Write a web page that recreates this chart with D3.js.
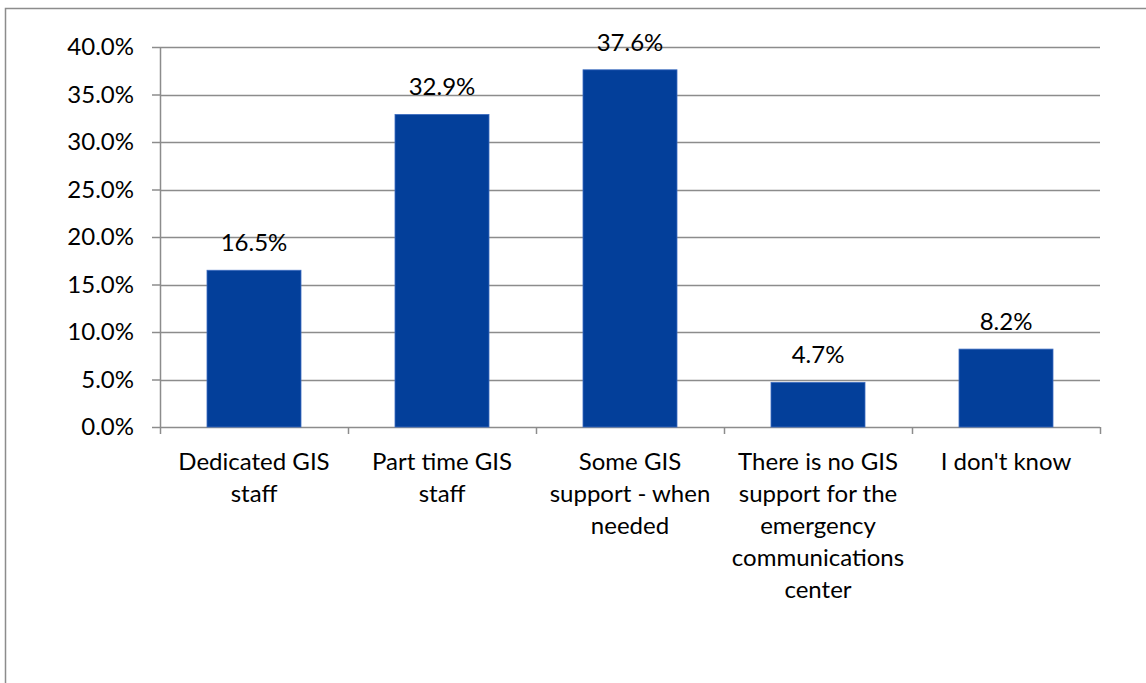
<!DOCTYPE html>
<html>
<head>
<meta charset="utf-8">
<script src="https://cdn.jsdelivr.net/npm/d3@7"></script>
<style>
  html, body { margin: 0; padding: 0; background: #fff; }
  svg { display: block; }
  text { font-family: Lato, "Open Sans", sans-serif; fill: #000; }
</style>
</head>
<body>
<svg id="chart" width="1146" height="683"></svg>
<script>
// Share of respondents by type of GIS staffing
const categories = [
  "Dedicated GIS staff",
  "Part time GIS staff",
  "Some GIS support - when needed",
  "There is no GIS support for the emergency communications center",
  "I don't know"
];
const values = [16.5, 32.9, 37.6, 4.7, 8.2];
const yTicks = [0, 5, 10, 15, 20, 25, 30, 35, 40];

const W = 1146, H = 683;
const plot = { left: 160, right: 1100, top: 47, bottom: 427 };
const fontSize = 24;

const svg = d3.select("#chart");

// outer chart frame (runs off the right and bottom edges)
svg.append("rect")
  .attr("x", 5.5).attr("y", 8.5)
  .attr("width", W + 10).attr("height", H + 10)
  .attr("fill", "none").attr("stroke", "#8c8c8c").attr("stroke-width", 1.5);

const x = d3.scaleBand()
  .domain(categories)
  .range([plot.left, plot.right])
  .paddingInner(0.5).paddingOuter(0.25);

const y = d3.scaleLinear()
  .domain([0, 40])
  .range([plot.bottom, plot.top]);

// horizontal gridlines
svg.append("g")
  .selectAll("line")
  .data(yTicks.filter(d => d > 0))
  .join("line")
  .attr("x1", plot.left).attr("x2", plot.right)
  .attr("y1", d => Math.round(y(d)) + 0.5).attr("y2", d => Math.round(y(d)) + 0.5)
  .attr("stroke", "#8c8c8c").attr("stroke-width", 1.5);

// y axis
const yAxis = svg.append("g")
  .attr("transform", `translate(${plot.left},0)`)
  .call(d3.axisLeft(y).tickValues(yTicks).tickSize(8).tickPadding(18)
    .tickFormat(d => d.toFixed(1) + "%"));
yAxis.select(".domain").attr("stroke", "#8c8c8c").attr("stroke-width", 1.5)
  .attr("d", `M0.5,${plot.top}V${plot.bottom}`);
yAxis.selectAll(".tick line").attr("stroke", "#8c8c8c").attr("stroke-width", 1.5);
yAxis.selectAll("text").attr("font-size", fontSize).style("font-family", "Lato").attr("fill", "#000");

// x axis with ticks at category boundaries
const xAxisG = svg.append("g").attr("transform", `translate(0,${plot.bottom})`);
xAxisG.append("line")
  .attr("x1", plot.left).attr("x2", plot.right)
  .attr("y1", 0.5).attr("y2", 0.5)
  .attr("stroke", "#8c8c8c").attr("stroke-width", 1.5);
const bounds = d3.range(categories.length + 1).map(i => plot.left + i * (plot.right - plot.left) / categories.length);
xAxisG.selectAll("line.tk")
  .data(bounds)
  .join("line").attr("class", "tk")
  .attr("x1", d => d + 0.5).attr("x2", d => d + 0.5)
  .attr("y1", 0).attr("y2", 7)
  .attr("stroke", "#8c8c8c").attr("stroke-width", 1.5);

// bars
svg.append("g")
  .selectAll("rect")
  .data(values)
  .join("rect")
  .attr("x", (d, i) => x(categories[i]))
  .attr("y", d => y(d))
  .attr("width", x.bandwidth())
  .attr("height", d => y(0) - y(d))
  .attr("fill", "#033f9a")
  .attr("stroke", "#3c6cc0").attr("stroke-width", 0.8);

// value labels
svg.append("g")
  .selectAll("text")
  .data(values)
  .join("text")
  .attr("x", (d, i) => x(categories[i]) + x.bandwidth() / 2)
  .attr("y", d => y(d) - 19)
  .attr("text-anchor", "middle")
  .attr("font-size", fontSize)
  .text(d => d.toFixed(1) + "%");

// wrapped category labels
const maxLineWidth = 178;
const measure = svg.append("text").attr("font-size", fontSize).attr("visibility", "hidden");
function wrap(str) {
  const words = str.split(" ");
  const lines = [];
  let cur = "";
  for (const w of words) {
    const trial = cur ? cur + " " + w : w;
    measure.text(trial);
    if (cur && measure.node().getComputedTextLength() > maxLineWidth) {
      lines.push(cur);
      cur = w;
    } else {
      cur = trial;
    }
  }
  if (cur) lines.push(cur);
  return lines;
}
const lineHeight = 32;
categories.forEach((c, i) => {
  const t = svg.append("text")
    .attr("text-anchor", "middle")
    .attr("font-size", fontSize);
  wrap(c).forEach((ln, j) => {
    t.append("tspan")
      .attr("x", x(c) + x.bandwidth() / 2)
      .attr("y", plot.bottom + 43 + j * lineHeight)
      .text(ln);
  });
});
measure.remove();
</script>
</body>
</html>
